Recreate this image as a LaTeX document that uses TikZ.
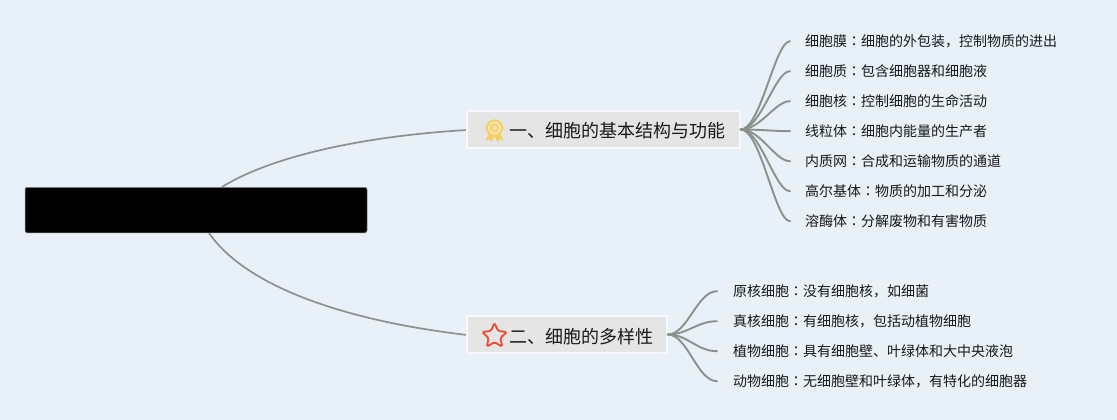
\documentclass[tikz,border=0pt]{standalone}
\usepackage{fontspec}
\setmainfont{Noto Sans CJK SC}
\newfontfamily\tcfont{Noto Sans CJK TC}
\usetikzlibrary{shapes.geometric}
\definecolor{bgc}{HTML}{E8F0F8}
\definecolor{linec}{HTML}{8C918C}
\definecolor{topicc}{HTML}{E5E5E5}
\definecolor{topicb}{HTML}{F6F8FB}
\definecolor{medal}{HTML}{F7CE62}
\definecolor{medalin}{HTML}{F3E3B0}
\definecolor{starc}{HTML}{E8503A}
\newcommand{\cc}{{\tcfont ：}}
\tikzset{x=1pt,y=-1pt,
  rootbox/.style={draw=linec,line width=.5pt,fill=black,rounded corners=2pt,minimum width=342pt,minimum height=45.5pt,inner sep=0pt},
  topic/.style={draw=topicb,line width=1.4pt,fill=topicc,minimum height=37pt,inner sep=0pt},
  topictext/.style={anchor=west,inner sep=0pt,font=\fontsize{18pt}{20pt}\selectfont,text=black!90},
  leaf/.style={anchor=west,inner sep=0pt,text=black!90,font=\fontsize{14pt}{16pt}\selectfont,minimum height=18pt},
  bigline/.style={draw=linec,line width=1.7pt,line cap=round},
  branch/.style={draw=linec,line width=1.9pt,line cap=round},
}
\begin{document}
\begin{tikzpicture}
\useasboundingbox (0,0) rectangle (1117,420);
\fill[bgc] (0,0) rectangle (1117,420);

\coordinate (r1) at (222,187);
\coordinate (r2) at (209,233);
\coordinate (j1) at (603.5,129.5);
\coordinate (j2) at (567,334.5);
\draw[bigline] (r1) .. controls (265,160) and (350,137) .. (467,130);
\draw[bigline] (r2) .. controls (245,285) and (340,320) .. (467,335);

\node[topic,minimum width=273pt] (t1) at (j1) {};
\node[topic,minimum width=200pt] (t2) at (j2) {};
\node[rootbox] (root) at (196,210) {};

\node[topictext] (t1text) at (509,131) {一、细胞的基本结构与功能};
\node[topictext] (t2text) at (509,337) {二、细胞的多样性};

% medal icon
\begin{scope}[shift={(494.5,130)}]
  \fill[medal] (-5,3) -- (-9,10) -- (-5,9.5) -- (-3,12) -- (0,6) -- (3,12) -- (5,9.5) -- (9,10) -- (5,3) -- cycle;
  \fill[medal] (0,-2) circle (8.6pt);
  \fill[medalin] (0,-2) circle (6.6pt);
  \fill[medal] (0,-2) circle (4.4pt);
  \fill[medalin] (0,-2) circle (2.4pt);
\end{scope}
% star icon
\node[star,star points=5,star point ratio=2.1,draw=starc,line width=1.9pt,fill=none,rounded corners=1.5pt,minimum size=26pt,inner sep=0pt] (staricon) at (494.5,336) {};

\node[leaf] (a1) at (805,41.2) {细胞膜\cc 细胞的外包装，控制物质的进出};
\node[leaf] (a2) at (805,71.2) {细胞质\cc 包含细胞器和细胞液};
\node[leaf] (a3) at (805,101.2) {细胞核\cc 控制细胞的生命活动};
\node[leaf] (a4) at (805,131.2) {线粒体\cc 细胞内能量的生产者};
\node[leaf] (a5) at (805,161.2) {内质网\cc 合成和运输物质的通道};
\node[leaf] (a6) at (805,191.2) {高尔基体\cc 物质的加工和分泌};
\node[leaf] (a7) at (805,221.2) {溶酶体\cc 分解废物和有害物质};

\node[leaf] (b1) at (733,291.2) {原核细胞\cc 没有细胞核，如细菌};
\node[leaf] (b2) at (733,321.2) {真核细胞\cc 有细胞核，包括动植物细胞};
\node[leaf] (b3) at (733,351.2) {植物细胞\cc 具有细胞壁、叶绿体和大中央液泡};
\node[leaf] (b4) at (733,381.2) {动物细胞\cc 无细胞壁和叶绿体，有特化的细胞器};

\foreach \n in {a1,a2,a3,a4,a5,a6,a7}{
  \coordinate (e\n) at ([xshift=-15pt]\n.west);
  \draw[branch] (t1.east) .. controls ([xshift=20pt]t1.east) and ([xshift=-15pt]e\n) .. (e\n);
}
\foreach \n in {b1,b2,b3,b4}{
  \coordinate (e\n) at ([xshift=-16pt]\n.west);
  \draw[branch] (t2.east) .. controls ([xshift=20pt]t2.east) and ([xshift=-20pt]e\n) .. (e\n);
}
\end{tikzpicture}
\end{document}
